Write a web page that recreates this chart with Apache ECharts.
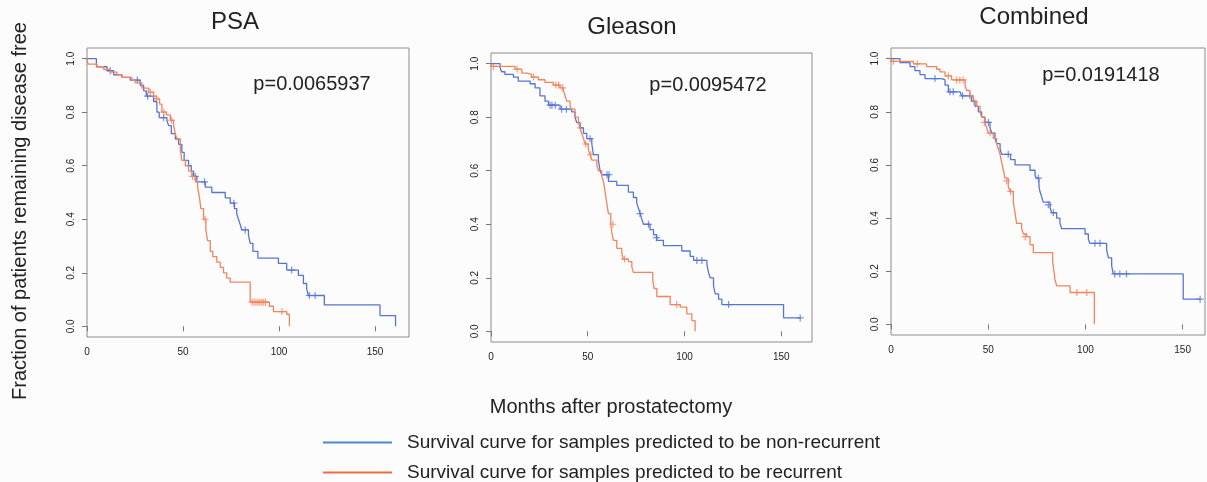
<!DOCTYPE html>
<html>
<head>
<meta charset="utf-8">
<title>Survival curves</title>
<script src="https://cdn.jsdelivr.net/npm/echarts@6/dist/echarts.min.js"></script>
<style>
  html, body { margin: 0; padding: 0; background: #fcfcfd; }
  #main { width: 1207px; height: 482px; }
</style>
</head>
<body>
<div id="main"></div>
<script>
// 面板标题与p值
var panelTitles = ['PSA', 'Gleason', 'Combined'];
var pValues = ['p=0.0065937', 'p=0.0095472', 'p=0.0191418'];
var xTicks = [0, 50, 100, 150];
var yTicks = [0, 0.2, 0.4, 0.6, 0.8, 1.0];
var nameNonRec = 'Survival curve for samples predicted to be non-recurrent';
var nameRec = 'Survival curve for samples predicted to be recurrent';

// PSA: [月数, 生存比例]
var psaNonRec = [[0,1],[4.9,0.97],[10.4,0.955],[13.9,0.94],[18.2,0.93],[22.5,0.92],[27.7,0.90],[29.5,0.88],[30.9,0.86],
  [34.7,0.84],[36.4,0.80],[37.6,0.78],[41.6,0.77],[42.5,0.75],[43.9,0.72],[46.0,0.70],[47.7,0.68],[49.4,0.65],[50.6,0.62],
  [52.9,0.60],[54.3,0.58],[55.5,0.56],[57.2,0.54],[61.6,0.52],[65.0,0.50],[72.0,0.48],[74.6,0.46],[76.8,0.44],[78.0,0.42],
  [78.9,0.40],[79.8,0.38],[80.6,0.36],[84.1,0.34],[85.0,0.31],[86.4,0.28],[89.0,0.255],[99.7,0.235],[104.0,0.21],
  [110.1,0.19],[112.7,0.16],[114.4,0.14],[115.3,0.115],[123.6,0.08],[152.6,0.04],[160.7,0.0]];
var psaNonRecCensor = [[12.1,0.955],[26.2,0.92],[31.6,0.86],[39.9,0.78],[56.4,0.56],[61.2,0.54],[76.5,0.46],[82.4,0.36],
  [106.6,0.21],[115.8,0.115],[118.8,0.115]];
var psaRec = [[0,1],[0.5,0.98],[5.2,0.97],[8.7,0.96],[12.1,0.95],[15.6,0.94],[18.2,0.93],[23.4,0.92],[25.1,0.91],[28.6,0.89],
  [32.1,0.875],[34.7,0.86],[36.4,0.85],[37.8,0.83],[39.0,0.80],[41.3,0.79],[43.4,0.77],[45.1,0.75],[46.0,0.72],[46.8,0.70],
  [48.6,0.66],[49.4,0.62],[51.2,0.60],[52.9,0.58],[54.6,0.56],[56.4,0.54],[57.6,0.52],[58.6,0.48],[59.3,0.44],[60.7,0.40],
  [61.9,0.36],[62.8,0.32],[64.2,0.28],[65.5,0.26],[67.6,0.24],[69.4,0.22],[71.1,0.20],[72.8,0.18],[74.6,0.165],[85.0,0.09],
  [95.0,0.075],[97.1,0.055],[104.0,0.045],[105.4,0.0]];
var psaRecCensor = [[33,0.875],[36,0.85],[40,0.80],[44,0.77],[55,0.56],[61.5,0.40],[86,0.09],[87,0.09],[88,0.09],[89,0.09],
  [90,0.09],[91,0.09],[92,0.09],[93,0.09],[101.5,0.055]];

// Gleason
var gleNonRec = [[0,1],[4.7,0.985],[5.5,0.97],[7.2,0.96],[11.6,0.95],[14.1,0.935],[20.2,0.925],[22.8,0.91],[25.3,0.88],
  [27.9,0.86],[29.7,0.845],[35.7,0.83],[41.7,0.82],[43.4,0.80],[44.3,0.78],[46.0,0.76],[47.8,0.74],[49.5,0.72],[52.1,0.70],
  [52.9,0.66],[55.5,0.64],[56.4,0.60],[57.2,0.585],[60.7,0.56],[65.0,0.545],[71.0,0.52],[73.6,0.50],[75.3,0.48],[76.2,0.46],
  [77.1,0.44],[77.9,0.42],[78.8,0.40],[82.2,0.38],[84.0,0.36],[85.7,0.34],[89.1,0.32],[98.6,0.30],[102.9,0.28],[104.7,0.265],
  [111.6,0.25],[112.4,0.22],[113.3,0.20],[115.0,0.17],[115.9,0.14],[117.6,0.12],[119.3,0.10],[151.2,0.05],[159.8,0.05]];
var gleNonRecCensor = [[30.5,0.845],[31.5,0.845],[33.2,0.845],[36.5,0.83],[39.0,0.83],[51.2,0.72],[60.0,0.585],[61.0,0.585],
  [77.0,0.44],[81.4,0.40],[85.5,0.35],[106.4,0.265],[109.0,0.265],[122.8,0.10],[159.8,0.05]];
var gleRec = [[0,1],[0.3,0.99],[12.4,0.98],[15.9,0.965],[18.4,0.96],[21.0,0.95],[24.5,0.94],[27.9,0.93],[32.2,0.92],
  [35.7,0.91],[37.4,0.90],[38.3,0.88],[39.1,0.86],[40.9,0.84],[41.7,0.83],[43.4,0.80],[45.2,0.78],[46.0,0.76],[46.9,0.74],
  [47.8,0.72],[48.6,0.70],[50.3,0.68],[51.2,0.66],[52.1,0.64],[54.7,0.62],[55.5,0.60],[57.2,0.58],[58.1,0.56],[59.0,0.52],
  [59.8,0.48],[60.7,0.44],[61.9,0.40],[62.4,0.37],[63.3,0.34],[65.0,0.31],[67.6,0.29],[68.4,0.27],[71.0,0.26],[72.8,0.24],
  [73.6,0.22],[83.6,0.19],[84.3,0.16],[85.7,0.13],[92.6,0.10],[97.8,0.09],[101.2,0.065],[103.8,0.04],[105.5,0.0]];
var gleRecCensor = [[1.2,0.99],[13.5,0.98],[22,0.95],[33.5,0.92],[35,0.92],[37,0.91],[46.3,0.76],[49,0.70],[51.6,0.66],
  [63,0.40],[69,0.27],[96,0.10]];

// Combined
var comNonRec = [[0,1],[4.6,0.985],[9.8,0.97],[12.3,0.955],[14.9,0.94],[17.5,0.925],[26.1,0.92],[27.8,0.90],[29.5,0.875],
  [35.5,0.87],[36.3,0.86],[41.5,0.84],[43.2,0.82],[44.9,0.80],[46.6,0.78],[48.3,0.76],[50.9,0.74],[51.8,0.72],[53.5,0.70],
  [54.3,0.68],[56.1,0.66],[56.9,0.64],[61.5,0.62],[63.8,0.60],[71.5,0.58],[74.1,0.56],[74.9,0.55],[76.1,0.52],[76.6,0.50],
  [77.5,0.48],[78.3,0.46],[81.8,0.44],[82.6,0.42],[85.2,0.40],[86.9,0.38],[87.8,0.36],[99.8,0.34],[101.5,0.32],[102.3,0.305],
  [110.9,0.28],[111.8,0.25],[113.5,0.22],[114.3,0.19],[150.3,0.095],[159,0.095]];
var comNonRecCensor = [[22.6,0.925],[30.3,0.875],[32.0,0.875],[36.8,0.86],[40.6,0.86],[50.1,0.76],[60.3,0.64],[75.8,0.55],
  [80.9,0.45],[83.5,0.42],[104.9,0.305],[107.5,0.305],[115.1,0.19],[117.7,0.19],[121.1,0.19],[159,0.095]];
var comRec = [[0,1],[0.3,0.99],[11.5,0.98],[18.3,0.97],[23.5,0.96],[25.2,0.95],[27.8,0.935],[31.2,0.92],[38.1,0.90],
  [38.9,0.88],[40.6,0.86],[42.3,0.84],[44.1,0.82],[45.8,0.80],[46.6,0.78],[48.3,0.76],[49.2,0.74],[50.1,0.72],[52.6,0.70],
  [54.3,0.68],[55.2,0.66],[56.1,0.64],[56.9,0.61],[57.8,0.58],[58.6,0.55],[60.3,0.52],[61.2,0.50],[62.9,0.46],[63.8,0.42],
  [64.6,0.38],[67.2,0.36],[68.1,0.34],[69.8,0.33],[71.5,0.30],[73.2,0.27],[83.1,0.24],[83.8,0.20],[84.3,0.17],[85.2,0.145],
  [92.1,0.12],[104.6,0.0]];
var comRecCensor = [[1.2,0.99],[13.5,0.98],[29.5,0.935],[33.7,0.92],[35.4,0.92],[37.1,0.92],[42.6,0.84],[48,0.76],
  [51,0.72],[59.5,0.54],[61.5,0.50],[69,0.33],[95.6,0.12],[100.7,0.12]];

var blue = '#5575d5';
var orange = '#f4845c';
var fontFamily = '"Liberation Sans", Arial, sans-serif';
var plus = 'path://M0,5L10,5M5,0L5,10';

var panels = [
  { nonRec: psaNonRec, nonRecC: psaNonRecCensor, rec: psaRec, recC: psaRecCensor,
    grid: { left: 87, top: 48, width: 322, height: 289 }, xMax: 167.7 },
  { nonRec: gleNonRec, nonRecC: gleNonRecCensor, rec: gleRec, recC: gleRecCensor,
    grid: { left: 491, top: 53, width: 321, height: 289 }, xMax: 165.9 },
  { nonRec: comNonRec, nonRecC: comNonRecCensor, rec: comRec, recC: comRecCensor,
    grid: { left: 891, top: 48, width: 314, height: 287 }, xMax: 161.5 }
];

var grids = [], xAxes = [], yAxes = [], series = [];
panels.forEach(function (p, i) {
  grids.push(Object.assign({ show: true, borderColor: '#8c8c8c', borderWidth: 1, backgroundColor: 'transparent' }, p.grid));
  xAxes.push({
    type: 'value', gridIndex: i, min: 0, max: p.xMax,
    axisLine: { show: false }, splitLine: { show: false },
    axisTick: { show: true, length: 5, customValues: xTicks, lineStyle: { color: '#777' } },
    axisLabel: { customValues: xTicks, fontSize: 10, color: '#222', margin: 10, fontFamily: fontFamily }
  });
  yAxes.push({
    type: 'value', gridIndex: i, min: -0.04, max: 1.04,
    axisLine: { show: false }, splitLine: { show: false },
    axisTick: { show: true, length: 5, customValues: yTicks, lineStyle: { color: '#777' } },
    axisLabel: { customValues: yTicks, rotate: 90, fontSize: 10, color: '#222', margin: 11, fontFamily: fontFamily,
      formatter: function (v) { return v.toFixed(1); } }
  });
  [[p.nonRec, p.nonRecC, blue, nameNonRec], [p.rec, p.recC, orange, nameRec]].forEach(function (s) {
    series.push({
      name: s[3], type: 'line', step: 'end', xAxisIndex: i, yAxisIndex: i,
      data: s[0], showSymbol: false, symbol: 'none',
      lineStyle: { color: s[2], width: 1.3 }, itemStyle: { color: s[2] }
    });
    series.push({
      name: s[3] + ' (censored)', type: 'scatter', xAxisIndex: i, yAxisIndex: i,
      data: s[1], symbol: plus, symbolSize: 7,
      itemStyle: { color: 'none', borderColor: s[2], borderWidth: 1.2 }
    });
  });
});

var graphics = [];
var titlePos = [[235, 22], [632, 27], [1034, 17]];
var pPos = [[312, 84], [708, 85], [1101, 75]];
panelTitles.forEach(function (t, i) {
  graphics.push({ type: 'text', x: titlePos[i][0], y: titlePos[i][1],
    style: { text: t, font: '24px ' + fontFamily, fill: '#222', align: 'center', verticalAlign: 'middle',
      textAlign: 'center', textVerticalAlign: 'middle' } });
  graphics.push({ type: 'text', x: pPos[i][0], y: pPos[i][1],
    style: { text: pValues[i], font: '20px ' + fontFamily, fill: '#222', align: 'center', verticalAlign: 'middle',
      textAlign: 'center', textVerticalAlign: 'middle' } });
});
graphics.push({ type: 'text', x: 20, y: 211, rotation: Math.PI / 2,
  style: { text: 'Fraction of patients remaining disease free', font: '20px ' + fontFamily, fill: '#222',
    align: 'center', verticalAlign: 'middle', textAlign: 'center', textVerticalAlign: 'middle' } });
graphics.push({ type: 'text', x: 611, y: 407,
  style: { text: 'Months after prostatectomy', font: '20px ' + fontFamily, fill: '#222',
    align: 'center', verticalAlign: 'middle', textAlign: 'center', textVerticalAlign: 'middle' } });

// 图例：两行，各用一个legend组件
function makeLegend(name, color, top) {
  return {
    orient: 'vertical', left: 323, top: top, padding: 0,
    itemWidth: 69, itemHeight: 2, icon: 'rect',
    textStyle: { fontSize: 19, color: '#222', fontFamily: fontFamily, padding: [0, 0, 0, 10] },
    data: [{ name: name, itemStyle: { color: color } }]
  };
}

var chart = echarts.init(document.getElementById('main'));
chart.setOption({
  backgroundColor: '#fcfcfd',
  animation: false,
  grid: grids,
  xAxis: xAxes,
  yAxis: yAxes,
  legend: [makeLegend(nameNonRec, '#4a88d6', 433), makeLegend(nameRec, '#f26a3c', 463)],
  graphic: graphics,
  series: series
});
</script>
</body>
</html>
